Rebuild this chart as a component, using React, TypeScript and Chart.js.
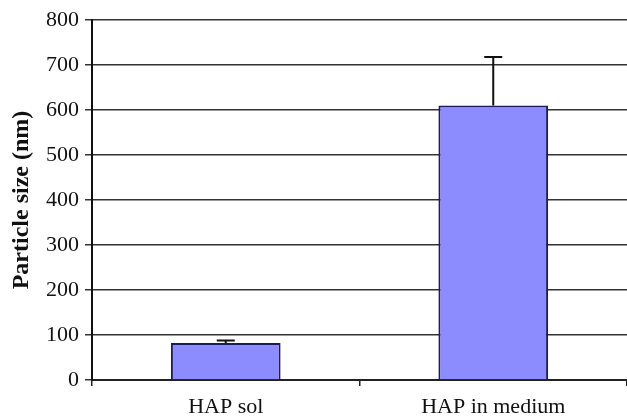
import React, { useEffect, useRef } from "react";
import { Chart, registerables } from "chart.js";

Chart.register(...registerables);

const categories = ["HAP sol", "HAP in medium"];
const sizes = [82, 610];
const errors = [6, 108];
const yTicks = [0, 100, 200, 300, 400, 500, 600, 700, 800];

const errorBarPlugin = {
  id: "errorBars",
  afterDatasetsDraw(chart: any) {
    const { ctx, scales } = chart;
    const meta = chart.getDatasetMeta(0);
    ctx.save();
    ctx.strokeStyle = "#111";
    ctx.lineWidth = 2;
    meta.data.forEach((bar: any, i: number) => {
      const x = bar.x;
      const yTop = scales.y.getPixelForValue(sizes[i] + errors[i]);
      const yBase = scales.y.getPixelForValue(sizes[i]);
      ctx.beginPath();
      ctx.moveTo(x, yBase);
      ctx.lineTo(x, yTop);
      ctx.moveTo(x - 9, yTop);
      ctx.lineTo(x + 9, yTop);
      ctx.stroke();
    });
    ctx.restore();
  },
};

export default function App() {
  const ref = useRef<HTMLCanvasElement>(null);
  useEffect(() => {
    document.body.style.margin = "0";
    const chart = new Chart(ref.current!, {
      type: "bar",
      data: {
        labels: categories,
        datasets: [
          {
            data: sizes,
            backgroundColor: "#8c8cff",
            borderColor: "#1c1c5c",
            borderWidth: 2,
            barPercentage: 0.82,
            categoryPercentage: 0.5,
          },
        ],
      },
      options: {
        animation: false,
        responsive: false,
        maintainAspectRatio: false,
        layout: { padding: { top: 20, right: 0, bottom: 0, left: 0 } },
        plugins: { legend: { display: false }, tooltip: { enabled: false } },
        scales: {
          x: {
            offset: true,
            grid: {
              offset: true,
              drawOnChartArea: false,
              drawTicks: true,
              tickLength: 6,
              color: "#222",
              lineWidth: 1.5,
            },
            border: { display: true, color: "#222", width: 2 },
            ticks: {
              color: "#111",
              font: { family: "Liberation Serif", size: 22 },
              padding: 8,
            },
            afterFit: (s: any) => {
              s.height = 37;
            },
          },
          y: {
            min: 0,
            max: 800,
            afterBuildTicks: (s: any) => {
              s.ticks = yTicks.map((v) => ({ value: v }));
            },
            grid: {
              color: "#333",
              lineWidth: 1.5,
              tickLength: 7,
            },
            border: { display: true, color: "#111", width: 2 },
            ticks: {
              color: "#111",
              font: { family: "Liberation Serif", size: 22 },
              padding: 6,
            },
            title: {
              display: true,
              text: "Particle size (nm)",
              color: "#111",
              font: { family: "Liberation Serif", size: 24, weight: "bold" },
              padding: { top: 7, bottom: 4 },
            },
            afterFit: (s: any) => {
              s.width = 92;
            },
          },
        },
      },
      plugins: [errorBarPlugin],
    });
    return () => chart.destroy();
  }, []);
  return (
    <div style={{ width: 627, height: 417 }}>
      <canvas ref={ref} width={627} height={417} />
    </div>
  );
}
